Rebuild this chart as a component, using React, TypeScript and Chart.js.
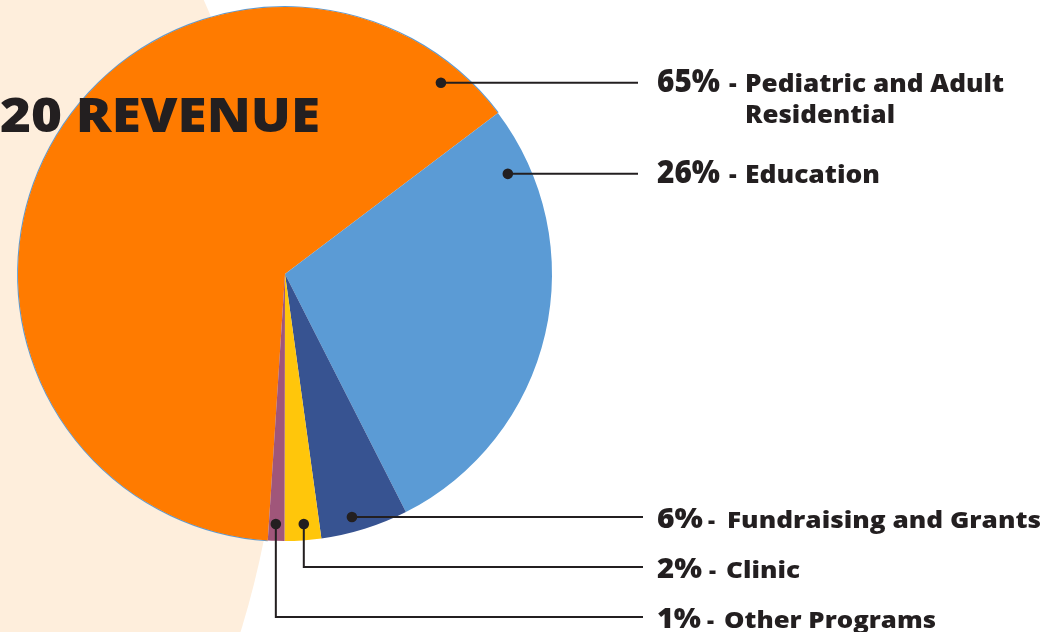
import React, { useEffect, useRef } from "react";
import { Chart, registerables } from "chart.js";

Chart.register(...registerables);

// ---- data ----
const categories = [
  "Pediatric and Adult Residential",
  "Education",
  "Fundraising and Grants",
  "Clinic",
  "Other Programs",
];
const values = [63.6, 27.8, 5.3, 2.2, 1.0];
const percentLabels = ["65%", "26%", "6%", "2%", "1%"];
const nameLines = [
  ["Pediatric and Adult", "Residential"],
  ["Education"],
  ["Fundraising and Grants"],
  ["Clinic"],
  ["Other Programs"],
];
const colors = ["#FF7B00", "#5B9BD5", "#375391", "#FFC60B", "#A0567A"];
const titleText = "20 REVENUE";

// ---- annotation layout (angle from top clockwise in deg, radius fraction) ----
const leaderAnchors = [
  { angle: 39.2, rf: 0.924, elbowY: null, endX: 638, big: true, pctW: 63, dashX: 729, nameX: 745, nameW: [259, 150] },
  { angle: 65.8, rf: 0.915, elbowY: null, endX: 638, big: true, pctW: 63, dashX: 729, nameX: 745, nameW: [135] },
  { angle: 164.6, rf: 0.944, elbowY: null, endX: 643, big: false, pctW: 46, dashX: 708, nameX: 727, nameW: [314] },
  { angle: 175.7, rf: 0.939, elbowY: 567, endX: 643, big: false, pctW: 45, dashX: 709, nameX: 726, nameW: [74] },
  { angle: 182.1, rf: 0.937, elbowY: 617, endX: 643, big: false, pctW: 44, dashX: 707, nameX: 724, nameW: [212] },
];

const INK = "#231F20";
const FONT = '"Open Sans", "Liberation Sans", sans-serif';

function fitText(ctx: CanvasRenderingContext2D, text: string, x: number, y: number, font: string, width?: number) {
  ctx.save();
  ctx.font = font;
  ctx.textAlign = "left";
  ctx.textBaseline = "alphabetic";
  const w = ctx.measureText(text).width;
  ctx.translate(x, y);
  if (width && w > 0) ctx.scale(width / w, 1);
  ctx.fillText(text, 0, 0);
  ctx.restore();
}

const decorPlugin = {
  id: "decor",
  beforeDraw(chart: any) {
    const ctx = chart.ctx as CanvasRenderingContext2D;
    ctx.save();
    ctx.fillStyle = "#FEEEDC";
    ctx.beginPath();
    ctx.arc(-620, 365, 901, 0, Math.PI * 2);
    ctx.fill();
    ctx.restore();
  },
  beforeDatasetsDraw(chart: any) {
    const arc = chart.getDatasetMeta(0).data[0];
    if (!arc) return;
    const ctx = chart.ctx as CanvasRenderingContext2D;
    ctx.save();
    ctx.strokeStyle = "#5B9BD5";
    ctx.lineWidth = 1.2;
    ctx.beginPath();
    ctx.arc(arc.x, arc.y, arc.outerRadius + 0.3, arc.startAngle, arc.endAngle);
    ctx.stroke();
    ctx.restore();
  },
  afterDatasetsDraw(chart: any) {
    const ctx = chart.ctx as CanvasRenderingContext2D;
    ctx.fillStyle = INK;
    fitText(ctx, titleText, 0, 132, `800 48px ${FONT}`, 320);
  },
  afterDraw(chart: any) {
    const arc = chart.getDatasetMeta(0).data[0];
    if (!arc) return;
    const cx = arc.x, cy = arc.y, R = arc.outerRadius;
    const ctx = chart.ctx as CanvasRenderingContext2D;
    ctx.save();
    leaderAnchors.forEach((a, i) => {
      const th = (a.angle * Math.PI) / 180;
      const dx = cx + Math.sin(th) * R * a.rf;
      const dy = cy - Math.cos(th) * R * a.rf;
      const ly = a.elbowY == null ? dy : a.elbowY;
      ctx.strokeStyle = INK;
      ctx.lineWidth = 2;
      ctx.beginPath();
      ctx.moveTo(dx, dy);
      if (a.elbowY != null) ctx.lineTo(dx, ly);
      ctx.lineTo(a.endX, ly);
      ctx.stroke();
      ctx.fillStyle = INK;
      ctx.beginPath();
      ctx.arc(dx, dy, 5.3, 0, Math.PI * 2);
      ctx.fill();

      const pct = percentLabels[i];
      const lines = nameLines[i];
      const base = a.big ? ly + 9 : ly + 11;
      const pctFont = a.big ? `800 31px ${FONT}` : `800 28px ${FONT}`;
      const nameFont = a.big ? `800 24px ${FONT}` : `800 22px ${FONT}`;
      const lineGap = a.big ? 31 : 26;
      fitText(ctx, pct, 657, base, pctFont, a.pctW);
      fitText(ctx, "-", a.dashX, base, nameFont);
      lines.forEach((t, k) => {
        fitText(ctx, t, a.nameX, base + k * lineGap, nameFont, a.nameW[k]);
      });
    });
    ctx.restore();
  },
};

export default function App() {
  const ref = useRef<HTMLCanvasElement | null>(null);
  useEffect(() => {
    document.body.style.margin = "0";
    if (!ref.current) return;
    const chart = new Chart(ref.current, {
      type: "pie",
      data: {
        labels: categories,
        datasets: [
          {
            data: values,
            backgroundColor: colors,
            borderWidth: 0,
            hoverOffset: 0,
          },
        ],
      },
      options: {
        animation: false,
        responsive: true,
        maintainAspectRatio: false,
        rotation: 183.7,
        layout: { padding: { left: 18, top: 7, right: 509, bottom: 91 } },
        plugins: {
          legend: { display: false },
          tooltip: { enabled: false },
        },
      },
      plugins: [decorPlugin],
    });
    return () => chart.destroy();
  }, []);
  return (
    <div style={{ position: "fixed", left: 0, top: 0, width: 1061, height: 632, background: "#ffffff" }}>
      <canvas ref={ref} />
    </div>
  );
}
